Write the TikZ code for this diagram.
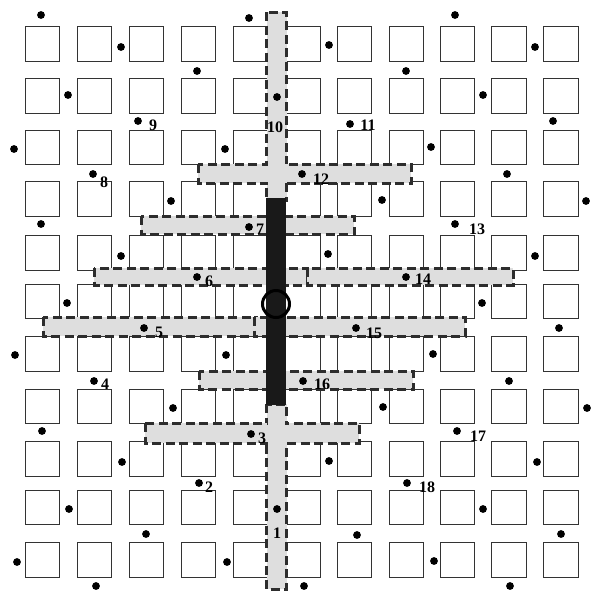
\documentclass[tikz,border=0pt]{standalone}
\usepackage{fontspec}
\setmainfont{Liberation Serif}
\usepackage{tikz}
\definecolor{barfill}{RGB}{222,222,222}
\definecolor{edgegray}{RGB}{45,45,45}
\tikzset{
cell/.style={
draw=black!80,
line width=1pt,
minimum size=34.5pt,
inner sep=0pt
},
bar/.style={
fill=barfill,
draw=edgegray,
line width=3pt,
dash pattern=on 9pt off 4.5pt
},
core/.style={
fill=black!90
},
spot/.style={
circle,
fill=black,
inner sep=0pt,
minimum size=7.8pt
},
num/.style={
font=\fontsize{16}{16}\selectfont\bfseries,
inner sep=0pt
},
ring/.style={
circle,
draw=black,
line width=3pt,
minimum size=27pt,
inner sep=0pt
}
}

\begin{document}
\begin{tikzpicture}[x=1pt,y=-1pt]
\useasboundingbox (0,0) rectangle (591,590);

\foreach \cx [count=\i] in {25,77,129,181,233,285.5,337,389,440,491.5,543.5}
\foreach \cy [count=\j] in {26.7,78.7,130.3,181.7,235.5,284,336.7,389,441.5,490,542.7}
\node[cell] (c\i-\j) at (\cx+17.25,\cy+17.25) {};

\foreach \xa/\ya/\xb/\yb in {266.5/12/286.5/200,266.5/404/286.5/589,
198/164/411/183,141/216/354/234,94/268/307/285,307/268/513/285,
43/317/256/336,254/317/465/336,199/371/413/389,145/423/359/443}
\draw[bar](\xa,\ya) rectangle (\xb,\yb);
\foreach \xa/\ya/\xb/\yb in {266.5/12/286.5/200,266.5/404/286.5/589,
198/164/411/183,145/423/359/443}
\fill[barfill](\xa+1.6,\ya+1.6) rectangle (\xb-1.6,\yb-1.6);

\fill[core](266,198) rectangle (286,405);
\node[ring](hub) at (276,304) {};

\foreach \px/\py [count=\k] in {41/15,249/18,455/15,121/47,329/45,535/47,
197/71,406/71,68/95,483/95,553/121,14/149,225/149,431/147,507/174,
171/201,382/200,586/201,41/224,121/256,328/254,535/256,67/303,482/303,
559/328,15/355,226/355,433/354,509/381,173/408,383/407,587/408,
42/431,122/462,329/461,537/462,69/509,483/509,146/534,357/535,561/534,
17/562,227/562,434/561,96/586,304/586,510/586}
\node[spot](q\k) at (\px,\py) {};

\foreach \n/\px/\py/\lx/\ly in {1/277/509/277/533,2/199/483/209/487,
3/251/434/262/438,4/94/381/105/384,5/144/328/159/332,6/197/277/209/281,
7/249/227/260/229,8/93/174/104/182,9/138/121/153/125,10/277/97/275/127,
11/350/124/368/125,12/302/174/321/179,13/455/224/477/229,
14/406/277/423/279,15/356/328/374/333,16/303/381/322/384,
17/457/431/478/436,18/407/483/427/487}
{
\node[spot](p\n) at (\px,\py) {};
\node[num](t\n) at (\lx,\ly) {\n};
}
\end{tikzpicture}
\end{document}
